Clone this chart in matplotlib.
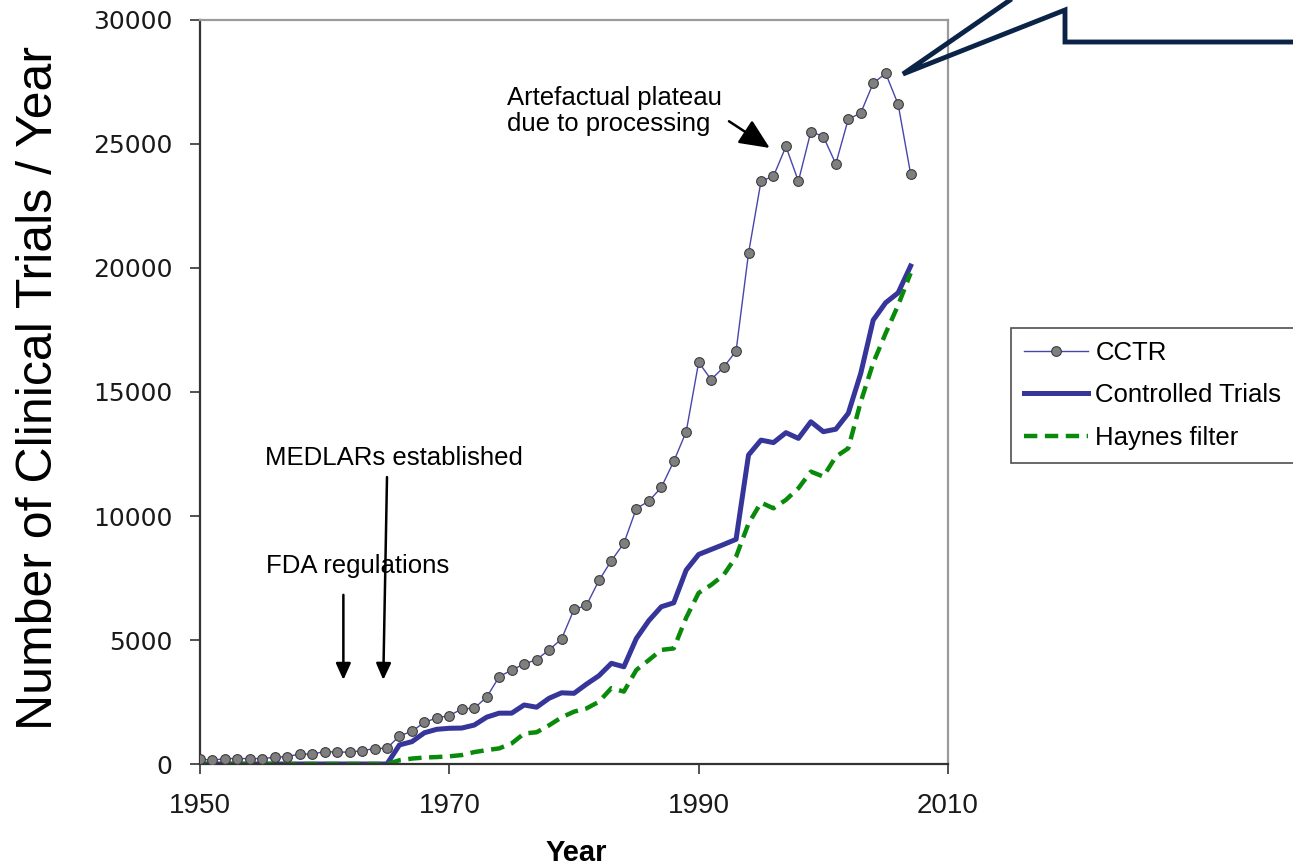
import numpy as np
import matplotlib
matplotlib.use("Agg")
import matplotlib.pyplot as plt
from matplotlib.lines import Line2D

plt.rcParams['font.family'] = ['Liberation Sans', 'DejaVu Sans']

years = list(range(1950, 2008))

cctr = [200, 150, 220, 220, 220, 220, 270, 300, 400, 400,
        500, 480, 480, 540, 620, 640,
        1130, 1320, 1680, 1860, 1950, 2220, 2250, 2700, 3520, 3790,
        4030, 4210, 4600, 5040, 6230, 6400, 7400, 8200, 8900, 10300,
        10600, 11150, 12200, 13400, 16200, 15500, 16000, 16650, 20600, 23500,
        23700, 24900, 23500, 25500, 25300, 24200, 26000, 26250, 27450, 27850,
        26600, 23800]

controlled = [0] * 16 + [
    770, 900, 1260, 1400, 1440, 1450, 1570, 1890, 2050, 2050,
    2380, 2290, 2650, 2870, 2850, 3220, 3560, 4060, 3920, 5060,
    5780, 6340, 6500, 7820, 8450, 8650, 8850, 9060, 12460, 13060,
    12960, 13360, 13130, 13800, 13400, 13500, 14140, 15750, 17900, 18600,
    19000, 20080]

haynes = [0] * 16 + [
    150, 220, 260, 280, 310, 360, 480, 560, 630, 830,
    1230, 1280, 1560, 1880, 2110, 2240, 2510, 3060, 2920, 3790,
    4190, 4600, 4660, 5900, 6900, 7220, 7620, 8360, 9700, 10540,
    10310, 10650, 11120, 11790, 11590, 12390, 12730, 14600, 16170, 17370,
    18500, 19790]

W, H = 1293, 868
fig = plt.figure(figsize=(W / 100, H / 100), dpi=100)
ax = fig.add_axes([200 / W, 1 - 764 / H, 748 / W, 744 / H])

ax.plot(years, cctr, color='#4646ac', lw=1.0, marker='o', markersize=7,
        markerfacecolor='#7f7f7f', markeredgecolor='#3c3c3c', markeredgewidth=0.8,
        label='CCTR', zorder=3)
ax.plot(years, controlled, color='#35359a', lw=3.6, label='Controlled Trials',
        solid_joinstyle='round', zorder=2)
ax.plot(years, haynes, color='#0a8a0a', lw=3.2, linestyle=(0, (3.0, 1.7)),
        label='Haynes filter', zorder=2)

ax.set_xlim(1950, 2010)
ax.set_ylim(0, 30000)
ax.set_xticks([1950, 1970, 1990, 2010])
ax.set_yticks(range(0, 30001, 5000))
ax.tick_params(direction='out', length=7, width=1.2, color='#333333',
               labelcolor='#1a1a1a')
ax.tick_params(axis='x', labelsize=20, pad=14)
ax.tick_params(axis='y', labelsize=18, pad=13)
for lab in ax.get_yticklabels():
    lab.set_family('DejaVu Sans')

for s in ['left', 'bottom']:
    ax.spines[s].set_color('#333333')
    ax.spines[s].set_linewidth(1.6)
for s in ['top', 'right']:
    ax.spines[s].set_color('#9a9a9a')
    ax.spines[s].set_linewidth(1.6)

ax.set_ylabel('Number of Clinical Trials / Year', fontsize=36)
ax.yaxis.set_label_coords(-0.1845, 0.505)
ax.set_xlabel('Year', fontsize=21, fontweight='bold')
ax.xaxis.set_label_coords(0.503, -0.101)

# annotations
arrow = dict(arrowstyle='-|>,head_width=0.45,head_length=1.0', color='black',
             lw=1.8, shrinkA=0, shrinkB=0)
ax.annotate('', xy=(1961.5, 3390), xytext=(1961.5, 6820), arrowprops=arrow)
ax.annotate('', xy=(1964.7, 3390), xytext=(1965.0, 11570), arrowprops=arrow)
ax.text(1955.3, 7700, 'FDA regulations', fontsize=18.5, ha='left', va='baseline')
ax.text(1955.2, 12050, 'MEDLARs established', fontsize=18.5, ha='left', va='baseline')
ax.annotate('Artefactual plateau\ndue to processing', xy=(1995.7, 24840),
            xytext=(1974.6, 27330), fontsize=18.5, ha='left', va='top',
            linespacing=1.12,
            arrowprops=dict(arrowstyle='-|>,head_width=0.45,head_length=1.0',
                            color='black', lw=1.8, shrinkA=4, shrinkB=0,
                            relpos=(1.0, 0.4)))

leg = ax.legend(loc='upper left', bbox_to_anchor=(1011 / W, 1 - 328 / H),
                bbox_transform=fig.transFigure, fontsize=18.5, frameon=True,
                fancybox=False, edgecolor='#222222', borderpad=0.5,
                handlelength=2.5, handletextpad=0.28, labelspacing=0.72,
                borderaxespad=0)
leg.get_frame().set_linewidth(1.2)

# callout shape at top right
px = [1013, 903, 1065, 1065, 1300]
py = [-2, 74, 10, 42, 42]
fig.add_artist(Line2D([x / W for x in px], [1 - y / H for y in py],
                      transform=fig.transFigure, color='#0b2347', lw=3.5,
                      solid_joinstyle='miter', solid_capstyle='butt'))

fig.savefig('out.png', dpi=100)
